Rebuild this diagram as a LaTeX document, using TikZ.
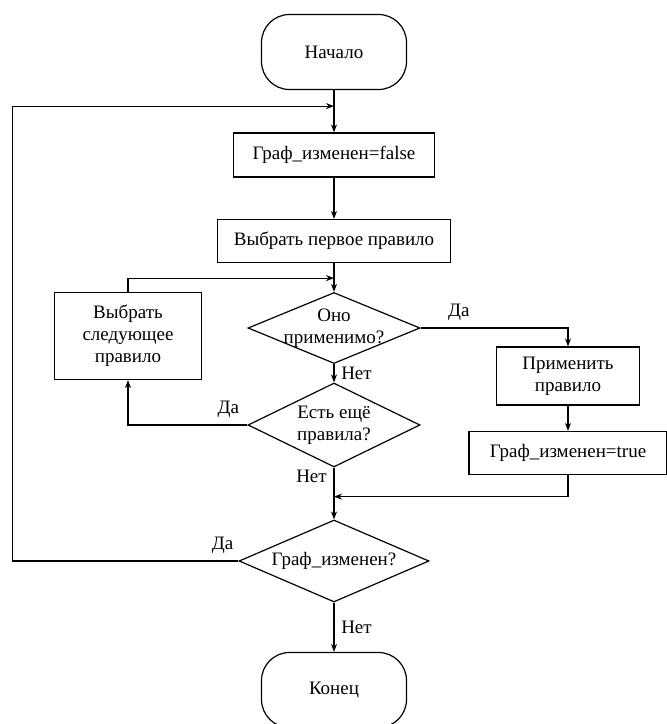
\documentclass[tikz,border=0pt]{standalone}
\usepackage{fontspec}
\setmainfont{Liberation Serif}
\usetikzlibrary{shapes.geometric,positioning,arrows.meta}

\begin{document}
\begin{tikzpicture}[>={Stealth[length=4pt,width=3pt]},line width=0.6pt,
    every node/.style={font=\fontsize{9.5}{11}\selectfont},
    term/.style={draw,rectangle,rounded corners=14pt,minimum width=72.5pt,minimum height=37.5pt},
    box/.style={draw,rectangle,align=center,inner sep=2pt},
    cond/.style={draw,diamond,aspect=2.3,align=center,inner sep=-2pt}]
    \useasboundingbox (0,0) rectangle (333pt,-362pt);
    % Main column
    \node[term] (start) at (167pt,-26pt) {Начало};
    \node[box,minimum width=100.5pt,minimum height=22pt,node distance=51.5pt,below of=start] (fls) {Граф\_изменен=false};
    \node[box,minimum width=116.5pt,minimum height=21.5pt,node distance=43pt,below of=fls] (first) {Выбрать первое правило};
    \node[cond,minimum width=86pt,minimum height=35.5pt,node distance=43.5pt,below of=first] (appl) {Оно\\применимо?};
    \node[cond,minimum width=86pt,minimum height=42pt,node distance=48.5pt,below of=appl] (more) {Есть ещё\\правила?};
    \node[cond,minimum width=95pt,minimum height=41pt,node distance=68pt,below of=more] (changed) {Граф\_изменен?};
    \node[term,node distance=64.5pt,below of=changed] (end) {Конец};
    % Side boxes
    \node[box,minimum width=73.5pt,minimum height=43.5pt,node distance=103pt,left of=appl,yshift=-4pt] (next) {Выбрать\\следующее\\правило};
    \node[box,minimum width=71.5pt,minimum height=29pt,node distance=117pt,right of=appl,yshift=-24pt] (apply) {Применить\\правило};
    \node[box,minimum width=99pt,minimum height=21.5pt,node distance=38.5pt,below of=apply] (tru) {Граф\_изменен=true};

    \coordinate (jtop) at ([yshift=-8pt]start.south);
    \coordinate (jmid) at ([yshift=-7.5pt]first.south);
    \coordinate (jlow) at ([yshift=-14.5pt]more.south);

    \draw (start) -- (jtop);
    \draw[->] (jtop) -- (fls);
    \draw[->] (fls) -- (first);
    \draw (first) -- (jmid);
    \draw[->] (jmid) -- (appl);
    \draw[->] (appl) -- node[right]{Нет} (more);
    \draw (more) -- node[left,pos=0.3]{Нет} (jlow);
    \draw[->] (jlow) -- (changed);
    \draw[->] (changed) -- node[right]{Нет} (end);
    % Branches
    \draw[->] (appl.east) -| node[above,pos=0.13]{Да} (apply.north);
    \draw[->] (apply) -- (tru);
    \draw[->] (tru.south) |- (jlow);
    \draw[->] (more.west) -| node[above,pos=0.08]{Да} (next.south);
    \draw[->] (next.north) |- (jmid);
    \draw[->] (changed.west) -- node[above,pos=0.07]{Да} ++(-113pt,0) |- (jtop);
\end{tikzpicture}
\end{document}
